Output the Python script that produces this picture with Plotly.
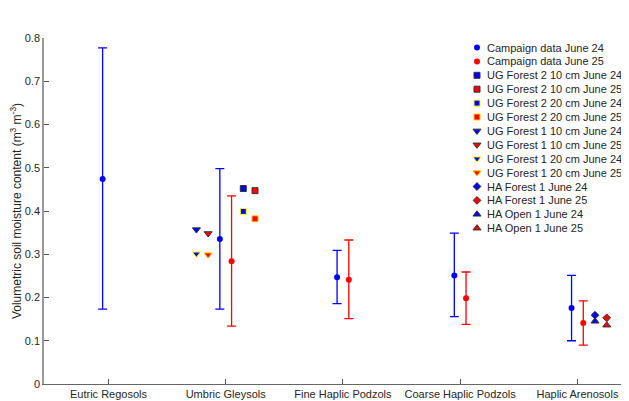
import plotly.graph_objects as go

categories = ["Eutric Regosols", "Umbric Gleysols", "Fine Haplic Podzols",
              "Coarse Haplic Podzols", "Haplic Arenosols"]
cat_pos = [1, 2, 3, 4, 5]

# Campaign data June 24 (all five soils)
camp24_mean = [0.474, 0.335, 0.247, 0.251, 0.176]
camp24_upper = [0.777, 0.498, 0.309, 0.349, 0.251]
camp24_lower = [0.173, 0.173, 0.186, 0.156, 0.100]

# Campaign data June 25 (no Eutric Regosols)
camp25_cats = [2, 3, 4, 5]
camp25_mean = [0.284, 0.241, 0.198, 0.141]
camp25_upper = [0.435, 0.333, 0.259, 0.192]
camp25_lower = [0.134, 0.151, 0.138, 0.090]

# Station data (single values)
ug_f2_10_jun24 = 0.452
ug_f2_10_jun25 = 0.447
ug_f2_20_jun24 = 0.399
ug_f2_20_jun25 = 0.382
ug_f1_10_jun24 = 0.357
ug_f1_10_jun25 = 0.348
ug_f1_20_jun24 = 0.301
ug_f1_20_jun25 = 0.299
ha_forest_jun24 = 0.159
ha_forest_jun25 = 0.153
ha_open_jun24 = 0.145
ha_open_jun25 = 0.136

y_ticks = [0, 0.1, 0.2, 0.3, 0.4, 0.5, 0.6, 0.7, 0.8]
y_tick_labels = ["0", "0.1", "0.2", "0.3", "0.4", "0.5", "0.6", "0.7", "0.8"]

BLUE = "#0000ff"
RED = "#ff0000"
DARK = "#333333"
YEL = "#ffff00"
ORA = "#ffcc00"

fig = go.Figure()
legend_items = []  # (name, symbol, fill, edge, size)

def campaign(name, cats, mean, upper, lower, color, off):
    xs = [c + off for c in cats]
    fig.add_trace(go.Scatter(
        x=xs, y=mean, mode="markers", name=name, showlegend=False,
        marker=dict(symbol="circle", size=6, color=color),
        error_y=dict(type="data", symmetric=False,
                     array=[u - m for u, m in zip(upper, mean)],
                     arrayminus=[m - l for m, l in zip(mean, lower)],
                     color=color, thickness=1.3, width=4.5),
    ))
    legend_items.append((name, "circle", color, color, 6))

campaign("Campaign data June 24", cat_pos, camp24_mean, camp24_upper, camp24_lower, BLUE, -0.05)
campaign("Campaign data June 25", camp25_cats, camp25_mean, camp25_upper, camp25_lower, RED, 0.05)

def station(name, cat, off, val, symbol, fill, edge, size):
    fig.add_trace(go.Scatter(
        x=[cat + off], y=[val], mode="markers", name=name, showlegend=False,
        marker=dict(symbol=symbol, size=size, color=fill,
                    line=dict(color=edge, width=1)),
    ))
    legend_items.append((name, symbol, fill, edge, size))

station("UG Forest 2 10 cm June 24", 2, 0.15, ug_f2_10_jun24, "square", BLUE, DARK, 6)
station("UG Forest 2 10 cm June 25", 2, 0.25, ug_f2_10_jun25, "square", RED, DARK, 6)
station("UG Forest 2 20 cm June 24", 2, 0.15, ug_f2_20_jun24, "square", BLUE, YEL, 6)
station("UG Forest 2 20 cm June 25", 2, 0.25, ug_f2_20_jun25, "square", RED, ORA, 6)
station("UG Forest 1 10 cm June 24", 2, -0.25, ug_f1_10_jun24, "triangle-down", BLUE, DARK, 7)
station("UG Forest 1 10 cm June 25", 2, -0.15, ug_f1_10_jun25, "triangle-down", RED, DARK, 7)
station("UG Forest 1 20 cm June 24", 2, -0.25, ug_f1_20_jun24, "triangle-down", BLUE, YEL, 7)
station("UG Forest 1 20 cm June 25", 2, -0.15, ug_f1_20_jun25, "triangle-down", RED, ORA, 7)
station("HA Forest 1 June 24", 5, 0.15, ha_forest_jun24, "diamond", BLUE, DARK, 6)
station("HA Forest 1 June 25", 5, 0.25, ha_forest_jun25, "diamond", RED, DARK, 6)
station("HA Open 1 June 24", 5, 0.15, ha_open_jun24, "triangle-up", BLUE, DARK, 7)
station("HA Open 1 June 25", 5, 0.25, ha_open_jun25, "triangle-up", RED, DARK, 7)

# The page puts the figure 8 px in from the window's top-left corner.
FIG_W, FIG_H = 621, 393
M_L, M_R, M_T, M_B = 36, 0, 30, 17
PLOT_W = FIG_W - M_L - M_R
PLOT_H = FIG_H - M_T - M_B

# Compact legend drawn on an overlay axis measured in pixels of the plot area
LEG_X = 433      # marker column (px from plot left)
LEG_Y0 = 9.5     # first row (px from plot top)
LEG_DY = 13.9    # row spacing
for i, (name, symbol, fill, edge, size) in enumerate(legend_items):
    yy = LEG_Y0 + LEG_DY * i
    fig.add_trace(go.Scatter(
        x=[LEG_X], y=[yy], mode="markers", xaxis="x2", yaxis="y2",
        showlegend=False, hoverinfo="skip",
        marker=dict(symbol=symbol, size=size, color=fill,
                    line=dict(color=edge, width=1 if edge != fill else 0)),
    ))
    fig.add_annotation(x=LEG_X + 8, y=yy, xref="x2", yref="y2", text=name,
                       showarrow=False, xanchor="left", yanchor="middle",
                       font=dict(size=11, color="#262626"))

fig.update_layout(
    width=FIG_W, height=FIG_H,
    margin=dict(l=M_L, r=M_R, t=M_T, b=M_B, autoexpand=False),
    paper_bgcolor="white", plot_bgcolor="white",
    font=dict(family="Liberation Sans, Arial, sans-serif", size=11, color="#262626"),
    showlegend=False,
    xaxis=dict(range=[0.45, 5.44], tickvals=cat_pos, ticktext=categories,
               tickangle=0, ticks="inside", ticklen=5, tickcolor="#555555",
               showline=True, linecolor="#666666", linewidth=1,
               showgrid=False, zeroline=False, fixedrange=True),
    yaxis=dict(range=[0, 0.8], tickvals=y_ticks, ticktext=y_tick_labels,
               ticks="inside", ticklen=5, tickcolor="#555555",
               showline=True, linecolor="#999999", linewidth=1.5,
               showgrid=False, zeroline=False, fixedrange=True,
               title=dict(text="Volumetric soil moisture content (m<sup>3</sup> m<sup>-3</sup>)",
                          standoff=1, font=dict(size=12))),
    xaxis2=dict(overlaying="x", range=[0, PLOT_W], visible=False, fixedrange=True),
    yaxis2=dict(overlaying="y", range=[PLOT_H, 0], visible=False, fixedrange=True),
)

fig.write_html("out.html")
